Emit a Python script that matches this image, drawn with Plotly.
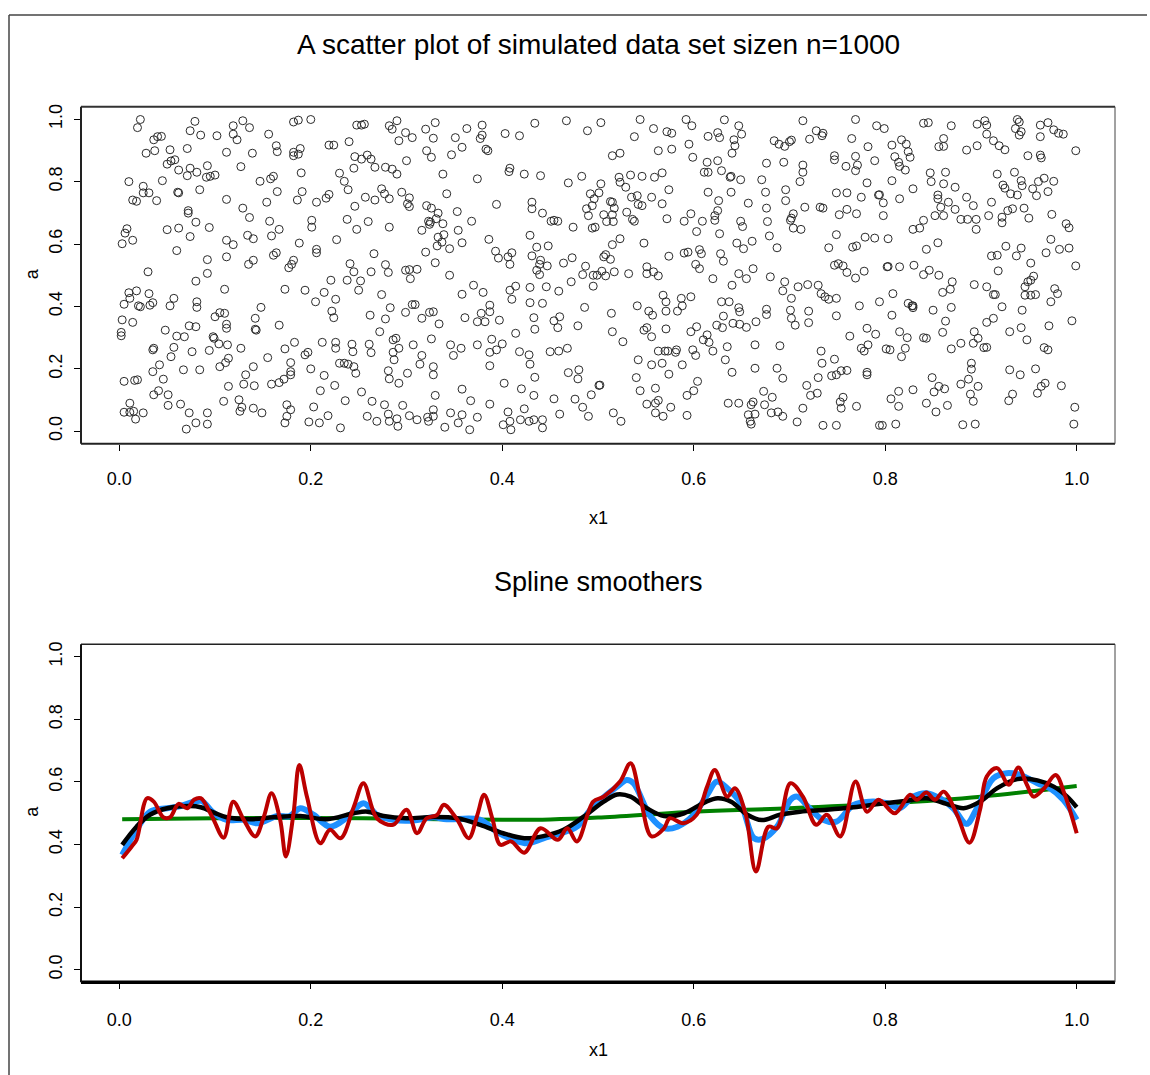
import plotly.graph_objects as go

W, H = 1150, 1075

# ---- simulated data set (x1, a), grouped in bands along x1 ----
band_1 = [(0.022,0.999),(0.019,0.973),(0.079,0.993),(0.074,0.963),(0.085,0.949),(0.102,0.947),(0.119,0.979),
          (0.129,0.995),(0.136,0.973),(0.119,0.952),(0.123,0.934),(0.036,0.934),(0.040,0.944),(0.044,0.945),
          (0.028,0.891),(0.037,0.899),(0.053,0.902),(0.071,0.906),(0.112,0.894),(0.139,0.891),(0.050,0.856),
          (0.054,0.866),(0.058,0.870),(0.062,0.837),(0.074,0.843),(0.071,0.819),(0.081,0.830),(0.092,0.851),
          (0.091,0.814),(0.095,0.817),(0.100,0.821),(0.127,0.848),(0.010,0.800),(0.045,0.803),(0.147,0.801),
          (0.025,0.785),(0.025,0.764),(0.031,0.764),(0.039,0.739),(0.061,0.766),(0.062,0.764),(0.084,0.774),
          (0.014,0.741),(0.018,0.737),(0.112,0.743),(0.129,0.715),(0.136,0.685),(0.072,0.707),(0.072,0.699),
          (0.080,0.670),(0.008,0.649),(0.006,0.635),(0.003,0.601),(0.014,0.612),(0.050,0.646),(0.062,0.651),
          (0.074,0.624),(0.094,0.653),(0.112,0.612),(0.119,0.598),(0.134,0.628),(0.140,0.617),(0.060,0.579),
          (0.092,0.550),(0.112,0.559),(0.135,0.535),(0.140,0.548),(0.030,0.511),(0.092,0.506),(0.080,0.481),
          (0.110,0.455),(0.010,0.444),(0.018,0.450),(0.031,0.441),(0.005,0.407),(0.011,0.426),(0.020,0.402),
          (0.022,0.399),(0.032,0.404),(0.035,0.412),(0.053,0.402),(0.057,0.426),(0.081,0.415),(0.081,0.397),
          (0.100,0.367),(0.105,0.380),(0.110,0.378),(0.148,0.397),(0.003,0.357),(0.014,0.349),(0.112,0.343),
          (0.112,0.330),(0.142,0.362),(0.142,0.327),(0.143,0.324),(0.002,0.317),(0.002,0.306),(0.048,0.324),
          (0.060,0.305),(0.068,0.303),(0.073,0.338),(0.080,0.335),(0.098,0.303),(0.099,0.298),(0.104,0.280),
          (0.113,0.277),(0.127,0.266),(0.036,0.266),(0.035,0.261),(0.057,0.269),(0.054,0.239),(0.076,0.255),
          (0.094,0.259),(0.105,0.207),(0.111,0.220),(0.114,0.234),(0.042,0.213),(0.035,0.191),(0.067,0.197),
          (0.084,0.197),(0.140,0.207),(0.132,0.181),(0.130,0.151),(0.141,0.146),(0.005,0.160),(0.016,0.163),
          (0.019,0.165),(0.046,0.167),(0.114,0.144),(0.036,0.117),(0.041,0.130),(0.051,0.117),(0.011,0.090),
          (0.005,0.061),(0.011,0.061),(0.015,0.064),(0.017,0.039),(0.025,0.059),(0.051,0.083),(0.064,0.087),
          (0.073,0.059),(0.092,0.059),(0.109,0.096),(0.125,0.101),(0.128,0.077),(0.126,0.064),(0.140,0.074),
          (0.149,0.059),(0.070,0.007),(0.080,0.027),(0.092,0.023)]

band_2 = [(0.182,0.991),(0.187,0.997),(0.200,0.999),(0.248,0.981),(0.253,0.981),(0.256,0.984),(0.282,0.979),
          (0.285,0.968),(0.290,0.995),(0.292,0.931),(0.299,0.957),(0.306,0.941),(0.320,0.968),(0.156,0.952),
          (0.164,0.915),(0.165,0.896),(0.219,0.917),(0.224,0.917),(0.240,0.928),(0.182,0.894),(0.182,0.883),
          (0.187,0.888),(0.189,0.906),(0.246,0.880),(0.253,0.872),(0.259,0.885),(0.263,0.872),(0.267,0.846),
          (0.278,0.846),(0.285,0.840),(0.290,0.824),(0.300,0.867),(0.321,0.899),(0.245,0.843),(0.190,0.828),
          (0.230,0.827),(0.235,0.801),(0.239,0.774),(0.158,0.809),(0.161,0.817),(0.165,0.768),(0.191,0.768),
          (0.186,0.741),(0.206,0.734),(0.216,0.747),(0.219,0.759),(0.257,0.750),(0.267,0.741),(0.274,0.777),
          (0.277,0.761),(0.282,0.745),(0.295,0.766),(0.303,0.748),(0.301,0.729),(0.303,0.720),(0.246,0.721),
          (0.321,0.723),(0.154,0.734),(0.157,0.673),(0.167,0.647),(0.159,0.626),(0.201,0.676),(0.201,0.654),
          (0.238,0.679),(0.248,0.647),(0.260,0.672),(0.282,0.654),(0.316,0.644),(0.323,0.673),(0.324,0.663),
          (0.188,0.603),(0.227,0.614),(0.161,0.564),(0.164,0.572),(0.177,0.524),(0.180,0.535),(0.182,0.548),
          (0.206,0.583),(0.206,0.572),(0.266,0.569),(0.320,0.574),(0.241,0.537),(0.245,0.511),(0.238,0.484),
          (0.221,0.484),(0.252,0.482),(0.250,0.452),(0.263,0.511),(0.278,0.534),(0.281,0.509),(0.299,0.516),
          (0.303,0.518),(0.304,0.489),(0.311,0.519),(0.173,0.455),(0.194,0.452),(0.205,0.415),(0.214,0.445),
          (0.226,0.423),(0.274,0.438),(0.222,0.385),(0.224,0.364),(0.262,0.372),(0.278,0.360),(0.283,0.396),
          (0.299,0.381),(0.306,0.406),(0.309,0.406),(0.316,0.362),(0.324,0.381),(0.167,0.340),(0.272,0.319),
          (0.173,0.264),(0.183,0.285),(0.194,0.245),(0.197,0.253),(0.212,0.285),(0.226,0.285),(0.226,0.266),
          (0.243,0.279),(0.244,0.255),(0.261,0.279),(0.263,0.252),(0.286,0.293),(0.289,0.298),(0.292,0.266),
          (0.286,0.253),(0.287,0.229),(0.307,0.277),(0.316,0.243),(0.314,0.215),(0.155,0.236),(0.179,0.220),
          (0.179,0.191),(0.200,0.200),(0.214,0.179),(0.225,0.147),(0.230,0.218),(0.235,0.218),(0.239,0.215),
          (0.245,0.207),(0.247,0.186),(0.281,0.194),(0.282,0.168),(0.292,0.154),(0.301,0.186),(0.159,0.151),
          (0.167,0.156),(0.172,0.167),(0.179,0.181),(0.210,0.130),(0.253,0.126),(0.236,0.098),(0.264,0.096),
          (0.277,0.085),(0.281,0.055),(0.296,0.083),(0.175,0.085),(0.179,0.069),(0.175,0.048),(0.173,0.027),
          (0.203,0.078),(0.198,0.030),(0.209,0.027),(0.218,0.050),(0.231,0.011),(0.259,0.048),(0.269,0.032),
          (0.282,0.032),(0.290,0.040),(0.291,0.016),(0.303,0.050),(0.311,0.037),(0.322,0.045),(0.323,0.032)]

band_3 = [(0.330,0.989),(0.328,0.939),(0.326,0.878),(0.363,0.970),(0.351,0.941),(0.358,0.910),(0.347,0.886),
          (0.379,0.981),(0.379,0.949),(0.377,0.938),(0.383,0.904),(0.385,0.899),(0.403,0.954),(0.418,0.947),
          (0.434,0.987),(0.467,0.995),(0.489,0.963),(0.338,0.824),(0.374,0.809),(0.408,0.843),(0.407,0.832),
          (0.423,0.824),(0.440,0.819),(0.469,0.796),(0.483,0.817),(0.342,0.761),(0.492,0.761),(0.496,0.745),
          (0.494,0.723),(0.488,0.713),(0.490,0.691),(0.394,0.727),(0.431,0.734),(0.431,0.713),(0.442,0.699),
          (0.451,0.673),(0.454,0.676),(0.458,0.673),(0.326,0.715),(0.333,0.699),(0.331,0.681),(0.338,0.665),
          (0.325,0.670),(0.353,0.704),(0.368,0.673),(0.474,0.654),(0.494,0.651),(0.354,0.644),(0.333,0.622),
          (0.339,0.630),(0.332,0.594),(0.337,0.606),(0.345,0.585),(0.358,0.604),(0.386,0.615),(0.393,0.577),
          (0.396,0.555),(0.429,0.628),(0.436,0.590),(0.448,0.594),(0.406,0.559),(0.410,0.572),(0.408,0.535),
          (0.431,0.562),(0.440,0.548),(0.439,0.535),(0.447,0.530),(0.436,0.516),(0.439,0.502),(0.464,0.539),
          (0.473,0.556),(0.487,0.529),(0.484,0.502),(0.495,0.500),(0.495,0.465),(0.330,0.540),(0.345,0.500),
          (0.370,0.468),(0.358,0.439),(0.380,0.445),(0.408,0.452),(0.414,0.465),(0.410,0.423),(0.429,0.461),
          (0.446,0.463),(0.459,0.449),(0.472,0.479),(0.429,0.412),(0.442,0.410),(0.387,0.404),(0.387,0.383),
          (0.378,0.378),(0.374,0.351),(0.382,0.351),(0.361,0.364),(0.397,0.356),(0.328,0.383),(0.334,0.344),
          (0.326,0.296),(0.433,0.364),(0.434,0.327),(0.454,0.354),(0.460,0.367),(0.458,0.332),(0.479,0.338),
          (0.486,0.397),(0.414,0.314),(0.346,0.277),(0.349,0.243),(0.357,0.266),(0.374,0.277),(0.389,0.295),
          (0.387,0.253),(0.394,0.261),(0.400,0.280),(0.418,0.255),(0.428,0.245),(0.429,0.215),(0.450,0.255),
          (0.459,0.257),(0.468,0.266),(0.328,0.207),(0.328,0.181),(0.387,0.210),(0.434,0.173),(0.469,0.188),
          (0.480,0.197),(0.479,0.168),(0.402,0.154),(0.358,0.135),(0.367,0.098),(0.330,0.115),(0.387,0.087),
          (0.420,0.136),(0.433,0.115),(0.454,0.104),(0.476,0.103),(0.484,0.077),(0.493,0.117),(0.490,0.048),
          (0.328,0.069),(0.328,0.048),(0.346,0.059),(0.358,0.053),(0.354,0.027),(0.340,0.013),(0.366,0.005),
          (0.374,0.045),(0.406,0.062),(0.408,0.032),(0.409,0.005),(0.401,0.021),(0.423,0.072),(0.419,0.037),
          (0.428,0.032),(0.433,0.037),(0.442,0.037),(0.442,0.011),(0.460,0.055)]

band_4 = [(0.503,0.989),(0.544,0.999),(0.558,0.970),(0.538,0.944),(0.572,0.960),(0.577,0.955),(0.592,0.999),
          (0.598,0.979),(0.595,0.920),(0.599,0.878),(0.615,0.945),(0.625,0.957),(0.627,0.941),(0.632,0.998),
          (0.647,0.979),(0.650,0.952),(0.642,0.934),(0.643,0.915),(0.640,0.891),(0.515,0.883),(0.523,0.891),
          (0.563,0.899),(0.577,0.904),(0.614,0.862),(0.625,0.867),(0.522,0.814),(0.523,0.798),(0.534,0.821),
          (0.546,0.817),(0.559,0.814),(0.567,0.828),(0.611,0.830),(0.615,0.830),(0.629,0.835),(0.639,0.817),
          (0.638,0.814),(0.649,0.806),(0.503,0.793),(0.501,0.764),(0.529,0.782),(0.574,0.774),(0.615,0.766),
          (0.639,0.766),(0.513,0.736),(0.515,0.734),(0.517,0.715),(0.535,0.750),(0.541,0.755),(0.542,0.727),
          (0.546,0.723),(0.556,0.750),(0.567,0.729),(0.626,0.739),(0.625,0.707),(0.622,0.691),(0.657,0.731),
          (0.506,0.694),(0.509,0.672),(0.516,0.672),(0.515,0.694),(0.530,0.702),(0.536,0.679),(0.538,0.673),
          (0.572,0.681),(0.590,0.673),(0.597,0.697),(0.609,0.673),(0.622,0.676),(0.649,0.673),(0.651,0.656),
          (0.497,0.654),(0.523,0.617),(0.515,0.598),(0.508,0.566),(0.513,0.551),(0.506,0.559),(0.548,0.603),
          (0.574,0.561),(0.590,0.571),(0.594,0.574),(0.606,0.582),(0.608,0.569),(0.603,0.640),(0.627,0.633),
          (0.645,0.603),(0.652,0.585),(0.661,0.609),(0.628,0.569),(0.631,0.545),(0.602,0.535),(0.606,0.521),
          (0.499,0.500),(0.504,0.513),(0.508,0.498),(0.517,0.511),(0.532,0.505),(0.551,0.527),(0.551,0.505),
          (0.558,0.511),(0.563,0.498),(0.620,0.489),(0.640,0.468),(0.647,0.505),(0.655,0.489),(0.662,0.521),
          (0.568,0.436),(0.571,0.415),(0.587,0.426),(0.588,0.402),(0.597,0.431),(0.583,0.385),(0.629,0.415),
          (0.637,0.415),(0.541,0.402),(0.553,0.385),(0.557,0.372),(0.571,0.385),(0.647,0.396),(0.648,0.383),
          (0.631,0.369),(0.514,0.378),(0.624,0.340),(0.630,0.332),(0.641,0.346),(0.648,0.343),(0.655,0.333),
          (0.665,0.351),(0.515,0.319),(0.526,0.287),(0.548,0.324),(0.551,0.332),(0.556,0.303),(0.571,0.328),
          (0.597,0.319),(0.603,0.335),(0.610,0.293),(0.614,0.309),(0.616,0.285),(0.620,0.257),(0.635,0.271),
          (0.664,0.277),(0.563,0.257),(0.570,0.257),(0.573,0.257),(0.581,0.253),(0.582,0.261),(0.599,0.261),
          (0.602,0.243),(0.542,0.229),(0.556,0.213),(0.567,0.218),(0.588,0.213),(0.574,0.183),(0.633,0.229),
          (0.640,0.189),(0.664,0.202),(0.540,0.172),(0.501,0.147),(0.502,0.148),(0.544,0.130),(0.560,0.138),
          (0.604,0.160),(0.600,0.130),(0.593,0.115),(0.551,0.087),(0.560,0.090),(0.563,0.099),(0.576,0.077),
          (0.560,0.059),(0.568,0.048),(0.593,0.051),(0.636,0.090),(0.647,0.090),(0.660,0.085),(0.662,0.094),
          (0.657,0.053),(0.664,0.055),(0.659,0.032),(0.660,0.023),(0.516,0.059),(0.524,0.032)]

band_5 = [(0.714,0.995),(0.728,0.963),(0.734,0.947),(0.735,0.955),(0.721,0.936),(0.769,0.999),(0.791,0.979),
          (0.799,0.970),(0.840,0.987),(0.684,0.931),(0.689,0.920),(0.695,0.913),(0.700,0.928),(0.702,0.933),
          (0.765,0.938),(0.782,0.912),(0.807,0.917),(0.817,0.934),(0.822,0.920),(0.824,0.896),(0.826,0.878),
          (0.810,0.880),(0.814,0.862),(0.815,0.849),(0.821,0.837),(0.676,0.859),(0.694,0.862),(0.747,0.883),
          (0.747,0.870),(0.759,0.849),(0.769,0.881),(0.771,0.853),(0.769,0.835),(0.789,0.867),(0.714,0.853),
          (0.714,0.830),(0.711,0.800),(0.671,0.806),(0.675,0.766),(0.696,0.774),(0.696,0.739),(0.781,0.796),
          (0.807,0.803),(0.829,0.777),(0.749,0.764),(0.760,0.764),(0.775,0.750),(0.793,0.757),(0.794,0.758),
          (0.798,0.732),(0.798,0.691),(0.815,0.745),(0.716,0.718),(0.732,0.718),(0.735,0.715),(0.676,0.715),
          (0.677,0.672),(0.704,0.697),(0.702,0.683),(0.701,0.676),(0.704,0.651),(0.712,0.647),(0.752,0.694),
          (0.760,0.711),(0.770,0.697),(0.829,0.647),(0.836,0.651),(0.840,0.676),(0.679,0.626),(0.687,0.588),
          (0.741,0.588),(0.749,0.630),(0.766,0.590),(0.770,0.594),(0.779,0.622),(0.789,0.619),(0.803,0.617),
          (0.747,0.532),(0.751,0.537),(0.756,0.530),(0.760,0.509),(0.769,0.491),(0.778,0.513),(0.802,0.527),
          (0.803,0.528),(0.815,0.527),(0.830,0.532),(0.840,0.502),(0.680,0.495),(0.695,0.479),(0.693,0.450),
          (0.709,0.463),(0.719,0.470),(0.730,0.468),(0.733,0.441),(0.737,0.431),(0.741,0.423),(0.749,0.426),
          (0.702,0.426),(0.701,0.388),(0.702,0.362),(0.706,0.340),(0.720,0.385),(0.720,0.348),(0.676,0.391),
          (0.676,0.374),(0.773,0.402),(0.794,0.415),(0.808,0.441),(0.807,0.372),(0.749,0.370),(0.824,0.410),
          (0.828,0.402),(0.829,0.396),(0.829,0.402),(0.781,0.330),(0.763,0.305),(0.790,0.311),(0.815,0.319),
          (0.823,0.300),(0.840,0.300),(0.690,0.274),(0.733,0.257),(0.734,0.218),(0.747,0.231),(0.775,0.266),
          (0.778,0.257),(0.782,0.277),(0.801,0.264),(0.805,0.261),(0.821,0.266),(0.817,0.239),(0.687,0.202),
          (0.693,0.170),(0.730,0.172),(0.744,0.178),(0.749,0.181),(0.754,0.194),(0.760,0.195),(0.781,0.189),
          (0.781,0.181),(0.718,0.147),(0.722,0.115),(0.729,0.122),(0.673,0.128),(0.682,0.109),(0.674,0.085),
          (0.681,0.059),(0.688,0.062),(0.693,0.048),(0.756,0.109),(0.753,0.094),(0.754,0.074),(0.770,0.080),
          (0.806,0.104),(0.814,0.128),(0.829,0.133),(0.814,0.080),(0.714,0.074),(0.708,0.030),(0.735,0.019),
          (0.749,0.019),(0.794,0.019),(0.797,0.019),(0.811,0.023)]

band_6 = [(0.845,0.989),(0.869,0.979),(0.896,0.984),(0.904,0.995),(0.906,0.981),(0.906,0.952),(0.913,0.931),
          (0.919,0.915),(0.925,0.902),(0.938,0.999),(0.940,0.991),(0.936,0.970),(0.942,0.960),(0.940,0.949),
          (0.962,0.981),(0.970,0.989),(0.976,0.966),(0.981,0.955),(0.986,0.952),(0.962,0.944),(0.861,0.938),
          (0.856,0.912),(0.861,0.913),(0.885,0.901),(0.896,0.915),(0.949,0.883),(0.962,0.885),(0.963,0.876),
          (0.999,0.899),(0.847,0.828),(0.848,0.800),(0.863,0.830),(0.861,0.793),(0.873,0.782),(0.917,0.824),
          (0.935,0.830),(0.942,0.803),(0.943,0.787),(0.923,0.789),(0.925,0.779),(0.931,0.761),(0.938,0.757),
          (0.954,0.777),(0.960,0.800),(0.966,0.811),(0.976,0.801),(0.970,0.768),(0.958,0.755),(0.855,0.757),
          (0.855,0.745),(0.858,0.718),(0.866,0.734),(0.873,0.711),(0.885,0.750),(0.892,0.723),(0.852,0.691),
          (0.861,0.691),(0.879,0.679),(0.886,0.679),(0.895,0.679),(0.895,0.647),(0.908,0.691),(0.911,0.734),
          (0.922,0.686),(0.922,0.668),(0.928,0.707),(0.933,0.713),(0.945,0.715),(0.950,0.683),(0.974,0.695),
          (0.989,0.665),(0.992,0.652),(0.855,0.604),(0.843,0.583),(0.911,0.562),(0.917,0.564),(0.926,0.593),
          (0.942,0.587),(0.937,0.562),(0.952,0.539),(0.973,0.615),(0.968,0.572),(0.982,0.583),(0.992,0.587),
          (0.999,0.530),(0.846,0.516),(0.856,0.500),(0.918,0.514),(0.946,0.463),(0.949,0.479),(0.955,0.497),
          (0.952,0.484),(0.946,0.436),(0.952,0.436),(0.957,0.438),(0.860,0.445),(0.868,0.455),(0.870,0.479),
          (0.893,0.470),(0.906,0.463),(0.913,0.438),(0.915,0.438),(0.977,0.457),(0.980,0.441),(0.973,0.415),
          (0.869,0.397),(0.850,0.388),(0.922,0.399),(0.943,0.388),(0.863,0.353),(0.860,0.317),(0.843,0.298),
          (0.906,0.349),(0.913,0.362),(0.942,0.332),(0.930,0.319),(0.948,0.293),(0.971,0.338),(0.995,0.354),
          (0.893,0.319),(0.897,0.298),(0.892,0.282),(0.903,0.268),(0.906,0.269),(0.869,0.264),(0.879,0.282),
          (0.966,0.268),(0.970,0.261),(0.890,0.218),(0.890,0.199),(0.887,0.167),(0.879,0.151),(0.897,0.144),
          (0.849,0.172),(0.856,0.144),(0.851,0.126),(0.862,0.136),(0.889,0.119),(0.892,0.096),(0.930,0.197),
          (0.941,0.181),(0.957,0.200),(0.933,0.119),(0.929,0.098),(0.963,0.144),(0.967,0.154),(0.959,0.122),
          (0.984,0.146),(0.843,0.090),(0.853,0.062),(0.865,0.083),(0.998,0.077),(0.997,0.023),(0.881,0.021),
          (0.894,0.023)]

bands = [band_1, band_2, band_3, band_4, band_5, band_6]
x1 = [p[0] for b in bands for p in b]
a = [p[1] for b in bands for p in b]

# ---- fitted smoothing splines (four degrees of smoothness) ----
green_x = [0.003, 0.1, 0.2, 0.3, 0.4, 0.45, 0.5, 0.6, 0.7, 0.8, 0.9, 1.0]
green_y = [0.481, 0.484, 0.485, 0.482, 0.479, 0.480, 0.486, 0.505, 0.516, 0.531, 0.553, 0.587]

black_x = [0.003, 0.018, 0.032, 0.050, 0.074, 0.085, 0.099, 0.112, 0.137, 0.161, 0.189, 0.217, 0.245,
           0.259, 0.276, 0.300, 0.328, 0.353, 0.377, 0.401, 0.423, 0.443, 0.464, 0.485, 0.506, 0.520,
           0.534, 0.551, 0.569, 0.590, 0.611, 0.625, 0.639, 0.656, 0.671, 0.690, 0.711, 0.739, 0.767,
           0.795, 0.823, 0.843, 0.864, 0.882, 0.899, 0.917, 0.938, 0.959, 0.976, 0.990, 1.0]
black_y = [0.399, 0.457, 0.495, 0.516, 0.523, 0.519, 0.502, 0.487, 0.481, 0.487, 0.491, 0.481, 0.500,
           0.505, 0.491, 0.484, 0.488, 0.484, 0.463, 0.436, 0.420, 0.427, 0.447, 0.489, 0.537, 0.560,
           0.553, 0.516, 0.491, 0.500, 0.534, 0.548, 0.537, 0.495, 0.478, 0.495, 0.505, 0.511, 0.519,
           0.530, 0.540, 0.548, 0.530, 0.516, 0.537, 0.580, 0.609, 0.605, 0.585, 0.553, 0.519]

blue_x = [0.003, 0.018, 0.032, 0.050, 0.064, 0.078, 0.086, 0.099, 0.112, 0.130, 0.144, 0.165, 0.178,
          0.189, 0.203, 0.220, 0.238, 0.255, 0.269, 0.286, 0.307, 0.328, 0.342, 0.377, 0.394, 0.412,
          0.426, 0.443, 0.461, 0.478, 0.492, 0.509, 0.520, 0.530, 0.537, 0.555, 0.569, 0.583, 0.600,
          0.614, 0.624, 0.635, 0.649, 0.663, 0.672, 0.687, 0.701, 0.708, 0.721, 0.735, 0.749, 0.767,
          0.784, 0.802, 0.815, 0.829, 0.843, 0.857, 0.871, 0.885, 0.895, 0.913, 0.927, 0.941, 0.959,
          0.972, 0.986, 1.0]
blue_y = [0.367, 0.447, 0.505, 0.516, 0.523, 0.537, 0.539, 0.500, 0.479, 0.479, 0.468, 0.491, 0.491,
          0.516, 0.495, 0.457, 0.487, 0.532, 0.495, 0.479, 0.477, 0.487, 0.481, 0.479, 0.441, 0.415,
          0.404, 0.420, 0.436, 0.457, 0.511, 0.559, 0.585, 0.606, 0.596, 0.489, 0.452, 0.457, 0.495,
          0.559, 0.601, 0.580, 0.532, 0.420, 0.418, 0.457, 0.543, 0.553, 0.516, 0.479, 0.473, 0.527,
          0.537, 0.532, 0.516, 0.553, 0.564, 0.548, 0.516, 0.466, 0.511, 0.612, 0.628, 0.622, 0.596,
          0.580, 0.543, 0.479]

red_x = [0.003, 0.013, 0.018, 0.029, 0.036, 0.046, 0.053, 0.062, 0.071, 0.078, 0.085, 0.097, 0.109,
         0.119, 0.130, 0.142, 0.151, 0.159, 0.168, 0.174, 0.182, 0.188, 0.196, 0.210, 0.220, 0.231,
         0.245, 0.255, 0.269, 0.286, 0.300, 0.311, 0.321, 0.332, 0.339, 0.353, 0.365, 0.374, 0.381,
         0.390, 0.398, 0.409, 0.423, 0.440, 0.458, 0.468, 0.478, 0.495, 0.506, 0.523, 0.534, 0.544,
         0.556, 0.569, 0.575, 0.589, 0.603, 0.614, 0.622, 0.635, 0.643, 0.654, 0.665, 0.678, 0.687,
         0.701, 0.714, 0.728, 0.739, 0.753, 0.769, 0.781, 0.793, 0.810, 0.826, 0.833, 0.843, 0.852,
         0.861, 0.875, 0.888, 0.899, 0.906, 0.917, 0.929, 0.939, 0.948, 0.955, 0.966, 0.978, 0.987, 1.0]
red_y = [0.356, 0.394, 0.415, 0.548, 0.537, 0.487, 0.487, 0.530, 0.516, 0.543, 0.548, 0.489, 0.422,
         0.537, 0.479, 0.426, 0.489, 0.564, 0.479, 0.362, 0.500, 0.654, 0.553, 0.404, 0.447, 0.420,
         0.521, 0.596, 0.484, 0.463, 0.511, 0.436, 0.484, 0.495, 0.527, 0.479, 0.420, 0.495, 0.559,
         0.479, 0.399, 0.410, 0.374, 0.452, 0.415, 0.452, 0.410, 0.537, 0.553, 0.601, 0.660, 0.553,
         0.426, 0.452, 0.484, 0.468, 0.495, 0.585, 0.638, 0.553, 0.580, 0.500, 0.314, 0.457, 0.452,
         0.596, 0.553, 0.463, 0.495, 0.426, 0.601, 0.505, 0.543, 0.500, 0.559, 0.543, 0.566, 0.543,
         0.569, 0.495, 0.406, 0.511, 0.617, 0.644, 0.591, 0.646, 0.591, 0.553, 0.580, 0.622, 0.564, 0.436]

tick_vals = [0.0, 0.2, 0.4, 0.6, 0.8, 1.0]
tick_text = ["0.0", "0.2", "0.4", "0.6", "0.8", "1.0"]

FONT = "Liberation Sans, Arial, sans-serif"


def fx(p):
    return p / W


def fy(p):
    return 1 - p / H


fig = go.Figure()

fig.add_trace(go.Scatter(
    x=x1, y=a, mode="markers", xaxis="x", yaxis="y",
    marker=dict(symbol="circle-open", size=8, color="#2a2a2a", line=dict(width=1, color="#2a2a2a")),
    hoverinfo="skip",
))

for xs, ys, col, w in [(green_x, green_y, "#008000", 4),
                       (blue_x, blue_y, "#1e90ff", 6),
                       (black_x, black_y, "#000000", 4.5),
                       (red_x, red_y, "#bb0000", 4)]:
    fig.add_trace(go.Scatter(
        x=xs, y=ys, mode="lines", xaxis="x2", yaxis="y2",
        line=dict(color=col, width=w, shape="spline", smoothing=1.0),
        hoverinfo="skip",
    ))

axis_common = dict(
    range=[-0.04, 1.04], tickvals=tick_vals, ticktext=tick_text,
    ticks="outside", ticklen=6, tickwidth=1, tickcolor="#000",
    showgrid=False, zeroline=False, showline=False,
    tickfont=dict(family=FONT, size=18, color="#000"),
)

x_dom = [fx(81), fx(1115)]
fig.update_layout(
    width=W, height=H,
    margin=dict(l=0, r=0, t=0, b=0),
    paper_bgcolor="white", plot_bgcolor="white",
    showlegend=False,
    xaxis=dict(domain=x_dom, anchor="y", ticklabelstandoff=13, **axis_common),
    yaxis=dict(domain=[fy(442), fy(104)], anchor="x", tickangle=-90, ticklabelstandoff=5, **axis_common),
    xaxis2=dict(domain=x_dom, anchor="y2", ticklabelstandoff=15, **axis_common),
    yaxis2=dict(domain=[fy(982), fy(643)], anchor="x2", tickangle=-90, ticklabelstandoff=5, **axis_common),
)

shapes = []


def box(xr, yr, widths, colors):
    # bottom, top, left, right edges of a plot panel
    edges = [((0, 0), (1, 0)), ((0, 1), (1, 1)), ((0, 0), (0, 1)), ((1, 0), (1, 1))]
    for ((x0, y0), (x1_, y1_)), w, c in zip(edges, widths, colors):
        shapes.append(dict(type="line", xref=xr, yref=yr, x0=x0, y0=y0, x1=x1_, y1=y1_,
                           line=dict(color=c, width=w)))


box("x domain", "y domain", [2, 2, 2, 1], ["#222", "#333", "#222", "#444"])
box("x2 domain", "y2 domain", [3.5, 1.5, 2, 1], ["#000", "#222", "#111", "#444"])

# outer frame
shapes.append(dict(type="line", xref="paper", yref="paper", x0=fx(9), y0=fy(12), x1=fx(1147), y1=fy(12),
                   line=dict(color="#444", width=1.5)))
shapes.append(dict(type="line", xref="paper", yref="paper", x0=fx(9), y0=fy(12), x1=fx(9), y1=0,
                   line=dict(color="#444", width=1.5)))
fig.update_layout(shapes=shapes)

annotations = [
    dict(text="A scatter plot of simulated data set sizen n=1000", x=fx(598), y=fy(42), size=28, angle=0),
    dict(text="Spline smoothers", x=fx(598), y=fy(581), size=27, angle=0),
    dict(text="x1", x=fx(598), y=fy(516), size=18, angle=0),
    dict(text="x1", x=fx(598), y=fy(1050), size=18, angle=0),
    dict(text="a", x=fx(32), y=fy(272), size=18, angle=-90),
    dict(text="a", x=fx(32), y=fy(811), size=18, angle=-90),
]
fig.update_layout(annotations=[
    dict(text=t["text"], x=t["x"], y=t["y"], xref="paper", yref="paper", showarrow=False,
         xanchor="center", yanchor="middle", textangle=t["angle"],
         font=dict(family=FONT, size=t["size"], color="#000"))
    for t in annotations
])

fig.write_html("out.html")
